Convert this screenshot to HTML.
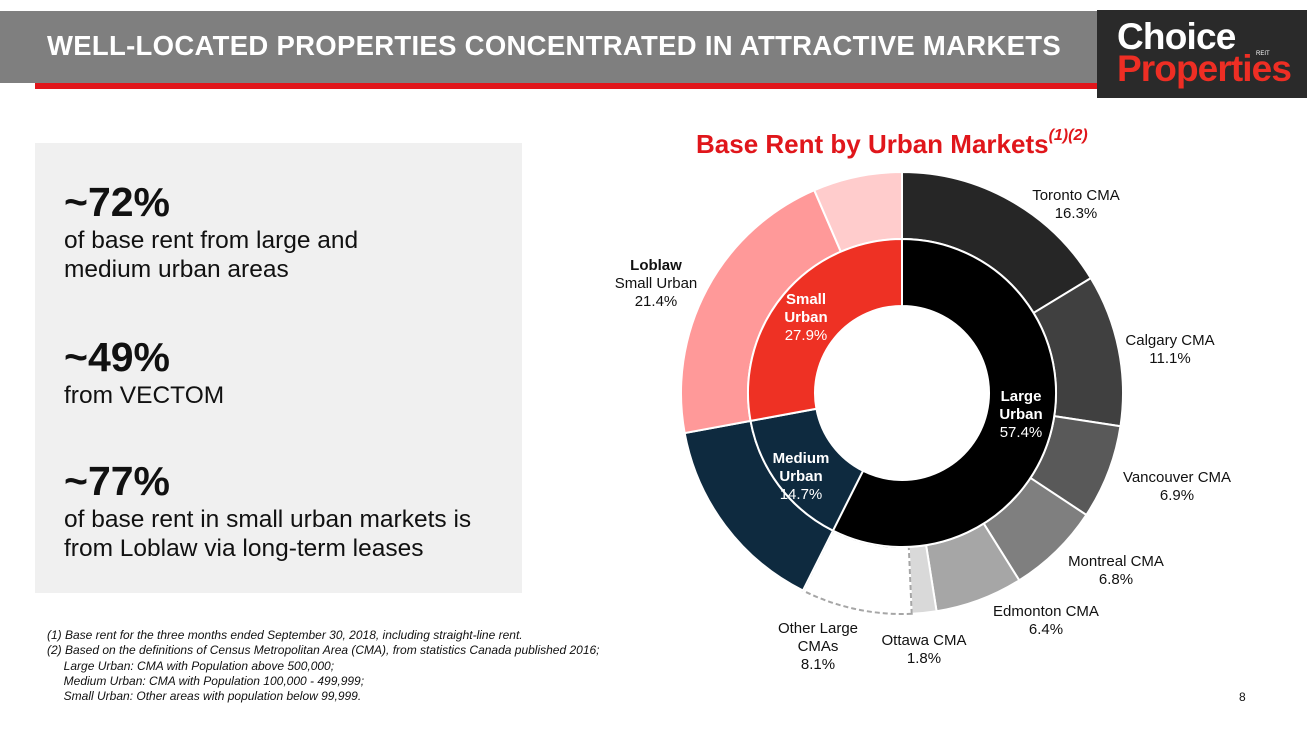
<!DOCTYPE html>
<html><head><meta charset="utf-8"><style>
body{margin:0;width:1307px;height:745px;background:#fff;position:relative;overflow:hidden;font-family:"Liberation Sans",Arial,sans-serif}
.a{position:absolute}
.big{font-size:41px;font-weight:bold;color:#111;line-height:42px}
.sub{font-size:24.5px;color:#111;line-height:29px}
.fn{font-size:12px;font-style:italic;color:#111;line-height:15.3px}
</style></head><body>
<div class="a" style="left:0;top:11px;width:1097px;height:72px;background:#7f7f7f"></div>
<div class="a" style="left:35px;top:83px;width:1062px;height:6px;background:#e0161b"></div>
<div class="a" style="left:47px;top:30px;font-size:27.5px;font-weight:bold;color:#fff;letter-spacing:0.3px;white-space:nowrap">WELL-LOCATED PROPERTIES CONCENTRATED IN ATTRACTIVE MARKETS</div>
<div class="a" style="left:1097px;top:10px;width:210px;height:88px;background:#2a2a2a"></div>
<div class="a" style="left:1117px;top:18px;font-size:37px;font-weight:bold;color:#fff;letter-spacing:-0.8px;line-height:38px">Choice</div>
<div class="a" style="left:1117px;top:50px;font-size:37px;font-weight:bold;color:#ee2e24;letter-spacing:-0.9px;line-height:38px">Properties</div>
<div class="a" style="left:1256px;top:51px;font-size:6px;color:#fff">REIT</div>

<div class="a" style="left:35px;top:143px;width:487px;height:450px;background:#f0f0f0"></div>
<div class="a big" style="left:64px;top:181px">~72%</div>
<div class="a sub" style="left:64px;top:226px">of base rent from large and<br>medium urban areas</div>
<div class="a big" style="left:64px;top:336px">~49%</div>
<div class="a sub" style="left:64px;top:381px">from VECTOM</div>
<div class="a big" style="left:64px;top:460px">~77%</div>
<div class="a sub" style="left:64px;top:505px">of base rent in small urban markets is<br>from Loblaw via long-term leases</div>

<div class="a fn" style="left:47px;top:628px">(1) Base rent for the three months ended September 30, 2018, including straight-line rent.<br>(2) Based on the definitions of Census Metropolitan Area (CMA), from statistics Canada published 2016;<br>&nbsp;&nbsp;&nbsp;&nbsp;&nbsp;Large Urban: CMA with Population above 500,000;<br>&nbsp;&nbsp;&nbsp;&nbsp;&nbsp;Medium Urban: CMA with Population 100,000 - 499,999;<br>&nbsp;&nbsp;&nbsp;&nbsp;&nbsp;Small Urban: Other areas with population below 99,999.</div>
<div class="a" style="left:1239px;top:690px;font-size:12px;color:#111">8</div>

<div class="a" style="left:696px;top:129px;font-size:26px;font-weight:bold;color:#e0161b;white-space:nowrap">Base Rent by Urban Markets<sup style="font-size:16px;font-style:italic;position:relative;top:-3px">(1)(2)</sup></div>

<svg class="a" style="left:0;top:0" width="1307" height="745" id="s"></svg>
<script>
var cx=902,cy=393,Ro=221,Rm=154,Ri=87;
function pt(r,p){var a=p*2*Math.PI;return [cx+r*Math.sin(a),cy-r*Math.cos(a)];}
function arc(r1,r2,p0,p1){var a=pt(r2,p0),b=pt(r2,p1),c=pt(r1,p1),d=pt(r1,p0),l=(p1-p0)>0.5?1:0;
return "M"+a+" A"+r2+","+r2+" 0 "+l+" 1 "+b+" L"+c+" A"+r1+","+r1+" 0 "+l+" 0 "+d+"Z";}
var h="";
function seg(r1,r2,list){var p=0;list.forEach(function(s){var q=p+s[0]/100;
h+='<path d="'+arc(r1,r2,p,q)+'" fill="'+s[1]+'" stroke="'+(s[2]||"#fff")+'" stroke-width="2" '+(s[2]?'stroke-dasharray="5,3"':'')+'/>';p=q;});}
seg(Rm,Ro,[[16.3,"#262626"],[11.1,"#404040"],[6.9,"#595959"],[6.8,"#7f7f7f"],[6.4,"#a6a6a6"],[1.8,"#d9d9d9"],[8.1,"#fff","#a6a6a6"],[14.7,"#0e2a3f"],[21.4,"#ff9999"],[6.5,"#ffcccc"]]);
seg(Ri,Rm,[[57.4,"#000"],[14.7,"#0e2a3f"],[27.9,"#ee3124"]]);
function t(x,y,lines,col,bold){lines.forEach(function(s,i){h+='<text x="'+x+'" y="'+(y+i*18)+'" text-anchor="middle" font-family="Liberation Sans,Arial,sans-serif" font-size="15" fill="'+col+'"'+((bold&&i<lines.length-1)?' font-weight="bold"':'')+'>'+s+'</text>';});}
t(806,304,["Small","Urban","27.9%"],"#fff",1);
t(1021,401,["Large","Urban","57.4%"],"#fff",1);
t(801,463,["Medium","Urban","14.7%"],"#fff",1);
t(1076,200,["Toronto CMA","16.3%"],"#111");
t(1170,345,["Calgary CMA","11.1%"],"#111");
t(1177,482,["Vancouver CMA","6.9%"],"#111");
t(1116,566,["Montreal CMA","6.8%"],"#111");
t(1046,616,["Edmonton CMA","6.4%"],"#111");
t(924,645,["Ottawa CMA","1.8%"],"#111");
t(818,633,["Other Large","CMAs","8.1%"],"#111");
h+='<text x="656" y="270" text-anchor="middle" font-family="Liberation Sans,Arial,sans-serif" font-size="15" font-weight="bold" fill="#111">Loblaw</text>';
t(656,288,["Small Urban","21.4%"],"#111");
document.getElementById("s").innerHTML=h;
</script>
</body></html>
